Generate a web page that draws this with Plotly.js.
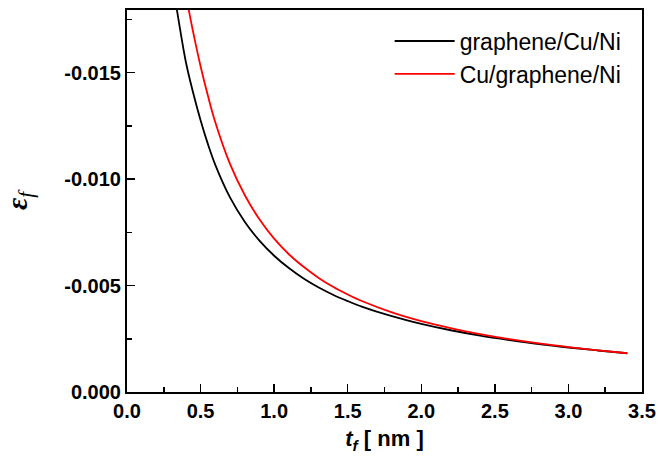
<!DOCTYPE html>
<html>
<head>
<meta charset="utf-8">
<script src="https://cdn.plot.ly/plotly-3.0.1.min.js"></script>
<style>html,body{margin:0;padding:0;background:#fff;}#chart{width:659px;height:462px;}</style>
</head>
<body>
<div id="chart"></div>
<script>
// Series: graphene/Cu/Ni (black)
const tBlack = [0.32, 0.35, 0.40, 0.45, 0.50, 0.55, 0.60, 0.70, 0.80, 0.90, 1.00, 1.10, 1.20, 1.30, 1.40, 1.50, 1.60, 1.80, 2.00, 2.20, 2.40, 2.60, 2.80, 3.00, 3.20, 3.40];
const epsBlack = [-0.01875, -0.01749, -0.01550, -0.01404, -0.01276, -0.01164, -0.01067, -0.00914, -0.00800, -0.00711, -0.00640, -0.00582, -0.00533, -0.00492, -0.00457, -0.00427, -0.00400, -0.00356, -0.00320, -0.00290, -0.00265, -0.00244, -0.00225, -0.00209, -0.00195, -0.00182];
// Series: Cu/graphene/Ni (red)
const tRed = [0.41, 0.45, 0.50, 0.55, 0.60, 0.70, 0.80, 0.90, 1.00, 1.10, 1.20, 1.30, 1.40, 1.50, 1.60, 1.80, 2.00, 2.20, 2.40, 2.60, 2.80, 3.00, 3.20, 3.40];
const epsRed = [-0.01829, -0.01689, -0.01530, -0.01391, -0.01267, -0.01071, -0.00925, -0.00811, -0.00720, -0.00647, -0.00588, -0.00537, -0.00494, -0.00458, -0.00426, -0.00374, -0.00333, -0.00300, -0.00272, -0.00248, -0.00228, -0.00211, -0.00196, -0.00182];
const seriesNames = ['graphene/Cu/Ni', 'Cu/graphene/Ni'];
// Tick labels
const yTickVals = [0, -0.005, -0.010, -0.015];
const yTickText = ['0.000', '-0.005', '-0.010', '-0.015'];

const tickFont = {family: 'Liberation Sans, Arial, sans-serif', size: 20, color: '#000', weight: 'bold'};

const traces = [
  {x: tBlack, y: epsBlack, name: seriesNames[0], type: 'scatter', mode: 'lines',
   line: {color: '#000000', width: 1.8, shape: 'spline', smoothing: 1}},
  {x: tRed, y: epsRed, name: seriesNames[1], type: 'scatter', mode: 'lines',
   line: {color: '#ff0000', width: 1.8, shape: 'spline', smoothing: 1}}
];

const layout = {
  width: 659, height: 462,
  margin: {l: 127, r: 17, t: 10, b: 70},
  paper_bgcolor: '#fff', plot_bgcolor: '#fff',
  showlegend: true,
  legend: {x: 0.51, y: 0.975, xanchor: 'left', yanchor: 'top', bgcolor: 'rgba(0,0,0,0)',
           font: {family: 'Liberation Sans, Arial, sans-serif', size: 23, color: '#000'},
           itemwidth: 60, tracegroupgap: 0},
  xaxis: {
    range: [0, 3.5], dtick: 0.5, tick0: 0, tickformat: '.1f',
    showgrid: false, zeroline: false,
    showline: true, mirror: true, linecolor: '#000', linewidth: 2,
    ticks: 'inside', ticklen: 8, tickwidth: 1.5, tickcolor: '#000',
    minor: {dtick: 0.25, tick0: 0, ticks: 'inside', ticklen: 5, tickwidth: 1.5, tickcolor: '#000', showgrid: false},
    tickfont: tickFont,
    title: {text: '<b><i>t</i></b><sub><b><i>f</i></b></sub><b> [ nm ]</b>',
            font: {family: 'Liberation Sans, Arial, sans-serif', size: 22, color: '#000'}, standoff: 10}
  },
  xaxis2: {
    overlaying: 'x', side: 'top', range: [0, 10.3], dtick: 1, tick0: 0,
    showgrid: false, zeroline: false, showline: false, showticklabels: false,
    ticks: 'inside', ticklen: 2, tickwidth: 1, tickcolor: '#000'
  },
  yaxis: {
    range: [0, -0.01794],
    tickvals: yTickVals, ticktext: yTickText,
    showgrid: false, zeroline: false,
    showline: true, mirror: true, linecolor: '#000', linewidth: 2,
    ticks: 'inside', ticklen: 8, tickwidth: 1.5, tickcolor: '#000',
    minor: {dtick: 0.0025, tick0: 0, ticks: 'inside', ticklen: 5, tickwidth: 1.5, tickcolor: '#000', showgrid: false},
    tickfont: tickFont,
    title: {text: '<b><i>ε</i></b><sub><i>f</i></sub>',
            font: {family: 'Liberation Serif, Times New Roman, serif', size: 30, color: '#000'}, standoff: 28}
  }
};

Plotly.newPlot('chart', traces, layout, {displayModeBar: false, staticPlot: true});
</script>
</body>
</html>
